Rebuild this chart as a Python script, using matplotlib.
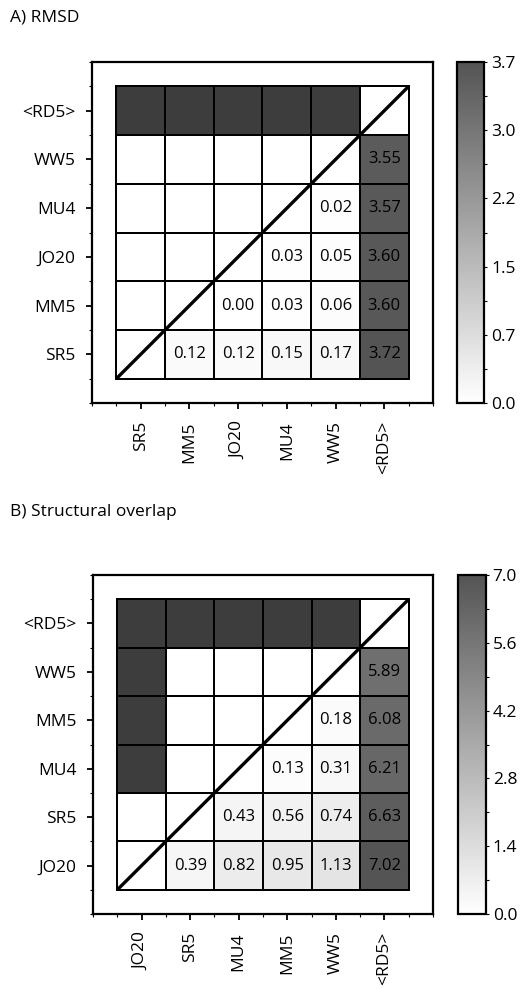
import numpy as np
import matplotlib
matplotlib.use("Agg")
import matplotlib.pyplot as plt
from matplotlib.colors import LinearSegmentedColormap, ListedColormap

plt.rcParams['font.family'] = ['Open Sans', 'DejaVu Sans']

# ---------------- data ----------------
labels_a = ['SR5', 'MM5', 'JO20', 'MU4', 'WW5', '<RD5>']
# rows from bottom (SR5) to top (<RD5>), columns left to right; None = blank
rmsd = [
    [None, 0.12, 0.12, 0.15, 0.17, 3.72],
    [None, None, 0.00, 0.03, 0.06, 3.60],
    [None, None, None, 0.03, 0.05, 3.60],
    [None, None, None, None, 0.02, 3.57],
    [None, None, None, None, None, 3.55],
    [None, None, None, None, None, None],
]
dark_a = [
    [0, 0, 0, 0, 0, 0],
    [0, 0, 0, 0, 0, 0],
    [0, 0, 0, 0, 0, 0],
    [0, 0, 0, 0, 0, 0],
    [0, 0, 0, 0, 0, 0],
    [1, 1, 1, 1, 1, 0],
]
cbar_ticks_a = [0.0, 0.74, 1.48, 2.22, 2.96, 3.7]

labels_b = ['JO20', 'SR5', 'MU4', 'MM5', 'WW5', '<RD5>']
overlap = [
    [None, 0.39, 0.82, 0.95, 1.13, 7.02],
    [None, None, 0.43, 0.56, 0.74, 6.63],
    [None, None, None, 0.13, 0.31, 6.21],
    [None, None, None, None, 0.18, 6.08],
    [None, None, None, None, None, 5.89],
    [None, None, None, None, None, None],
]
dark_b = [
    [0, 0, 0, 0, 0, 0],
    [0, 0, 0, 0, 0, 0],
    [1, 0, 0, 0, 0, 0],
    [1, 0, 0, 0, 0, 0],
    [1, 0, 0, 0, 0, 0],
    [1, 1, 1, 1, 1, 0],
]
cbar_ticks_b = [0.0, 1.4, 2.8, 4.2, 5.6, 7.0]

cmap = LinearSegmentedColormap.from_list('gw', ['#ffffff', '#545454'])
cmap.set_bad('white')
dark_cmap = ListedColormap(['#3d3d3d'])

FS_TICK = 12.5
FS_CELL = 12
FS_TITLE = 12.5

fig = plt.figure(figsize=(5.24, 9.89), dpi=100)


def panel(rect, cbrect, labels, vals, dark, ticks, vmax, title, title_y):
    ax = fig.add_axes(rect)
    n = len(labels)
    Z = np.array([[np.nan if v is None else v for v in row] for row in vals], dtype=float)
    D = np.ma.masked_equal(np.array(dark, dtype=float), 0)
    edges = np.arange(n + 1)
    mesh = ax.pcolormesh(edges, edges, np.ma.masked_invalid(Z), cmap=cmap,
                         vmin=0, vmax=vmax, edgecolors='black', linewidth=1.3)
    ax.pcolormesh(edges, edges, D, cmap=dark_cmap, edgecolors='black', linewidth=1.3)
    for k in edges:
        ax.plot([0, n], [k, k], color='black', lw=1.3, zorder=3)
        ax.plot([k, k], [0, n], color='black', lw=1.3, zorder=3)
    ax.plot([0, n], [0, n], color='black', lw=2.4, zorder=4, solid_capstyle='butt')
    for i in range(n):
        for j in range(n):
            if not np.isnan(Z[i, j]):
                ax.text(j + 0.5, i + 0.5, f"{Z[i, j]:.2f}", ha='center', va='center',
                        fontsize=FS_CELL, color='black', zorder=5)
    ax.set_xlim(-0.5, n + 0.5)
    ax.set_ylim(-0.5, n + 0.5)
    centers = np.arange(n) + 0.5
    ax.set_xticks(centers)
    ax.set_xticklabels(labels, rotation=90, fontsize=FS_TICK)
    ax.set_yticks(centers)
    ax.set_yticklabels(labels, fontsize=FS_TICK)
    minor = np.arange(-0.5, n + 0.6, 0.5)
    ax.set_xticks(minor, minor=True)
    ax.set_yticks(minor, minor=True)
    ax.tick_params(which='major', length=4, width=1.3)
    ax.tick_params(axis='x', which='major', pad=9)
    ax.tick_params(axis='y', which='major', pad=8)
    ax.tick_params(which='minor', length=2.5, width=0.8)
    for s in ax.spines.values():
        s.set_linewidth(1.6)

    cax = fig.add_axes(cbrect)
    cb = fig.colorbar(mesh, cax=cax)
    cb.set_ticks(ticks)
    cb.set_ticklabels([f"{t:.1f}" for t in ticks])
    cax.yaxis.set_ticks(np.array(ticks[:-1]) + (ticks[1] - ticks[0]) / 2, minor=True)
    cax.tick_params(which='major', length=2, width=0.8, labelsize=FS_TICK, pad=3)
    cax.tick_params(which='minor', length=2, width=0.8)
    cb.outline.set_linewidth(1.6)

    fig.text(0.019, title_y, title, fontsize=FS_TITLE, ha='left', va='center')


panel([0.1756, 0.5925, 0.6507, 0.3448], [0.872, 0.5925, 0.052, 0.3448],
      labels_a, rmsd, dark_a, cbar_ticks_a, 3.7, 'A) RMSD', 1 - 18 / 989)
panel([0.1775, 0.0758, 0.6488, 0.3428], [0.874, 0.0758, 0.053, 0.3428],
      labels_b, overlap, dark_b, cbar_ticks_b, 7.0, 'B) Structural overlap', 1 - 512 / 989)

fig.savefig('out.png', dpi=100)
